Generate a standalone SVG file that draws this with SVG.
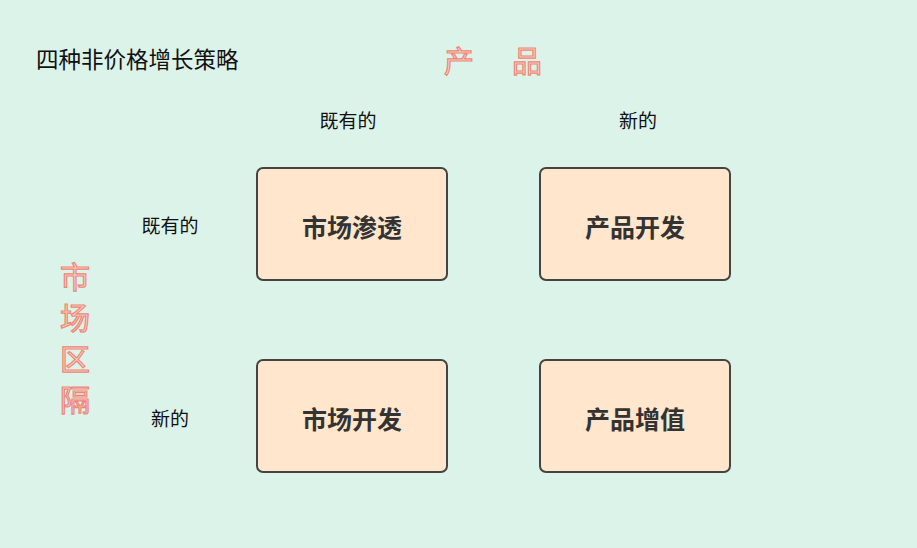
<svg xmlns="http://www.w3.org/2000/svg" width="917" height="548" viewBox="0 0 917 548">
<style>
.t{font-family:"Noto Sans CJK SC","Noto Sans",sans-serif;fill:#111}
.lbl{font-family:"Noto Sans CJK SC",sans-serif;font-size:19px;fill:#111;text-anchor:middle}
.box{fill:#ffe6cc;stroke:#444;stroke-width:2}
.bt{font-family:"Noto Sans CJK SC",sans-serif;font-size:25px;font-weight:bold;fill:#333;text-anchor:middle;dominant-baseline:central}
.glow{font-family:"Noto Sans CJK SC",sans-serif;fill:#fcd3ca;stroke:#ee8777;stroke-width:1.2;text-anchor:middle}
</style>
<rect width="917" height="548" fill="#dcf3e9"/>
<text class="t" x="36" y="68" font-size="22.5">四种非价格增长策略</text>
<text class="glow" x="459" y="72" font-size="30">产</text>
<text class="glow" x="527" y="72" font-size="30">品</text>
<text class="lbl" x="348" y="128">既有的</text>
<text class="lbl" x="638" y="128">新的</text>
<text class="lbl" x="170" y="233">既有的</text>
<text class="lbl" x="170" y="426">新的</text>
<g class="glow" font-size="30">
<text x="75" y="288">市</text>
<text x="75" y="329">场</text>
<text x="75" y="370">区</text>
<text x="75" y="411">隔</text>
</g>
<g id="connectors"></g>
<g id="n1"><rect class="box" x="257" y="168" width="190" height="112" rx="6"/><text class="bt" x="352" y="226">市场渗透</text></g>
<g id="n2"><rect class="box" x="540" y="168" width="190" height="112" rx="6"/><text class="bt" x="635" y="226">产品开发</text></g>
<g id="n3"><rect class="box" x="257" y="360" width="190" height="112" rx="6"/><text class="bt" x="352" y="418">市场开发</text></g>
<g id="n4"><rect class="box" x="540" y="360" width="190" height="112" rx="6"/><text class="bt" x="635" y="418">产品增值</text></g>
</svg>
